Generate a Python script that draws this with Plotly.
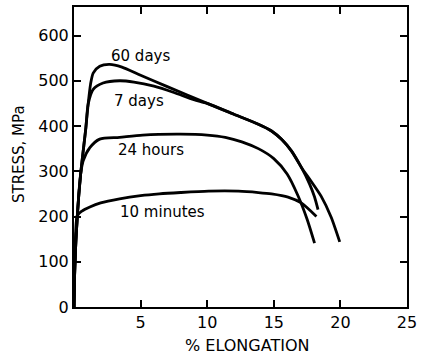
import plotly.graph_objects as go

# % elongation / stress (MPa) for each ageing time
x_60d = [0, 0.07, 0.25, 0.5, 0.89, 1.06, 1.24, 1.44, 1.93, 2.68, 3.6, 5.0, 7.0, 10.0, 12.0, 13.84, 14.83, 15.6, 16.32, 17.06, 17.8, 18.55, 19.3, 19.95]
y_60d = [0, 96, 202, 294, 396, 448, 492, 517, 532, 536, 530, 512, 487, 450, 426, 404, 389, 370, 345, 309, 278, 245, 199, 144]

x_7d = [0, 0.07, 0.25, 0.5, 0.89, 1.06, 1.44, 2.18, 3.42, 4.5, 6.0, 7.5, 9.0, 10.0, 12.0, 13.84, 14.83, 15.6, 16.32, 17.06, 17.68, 18.06, 18.32]
y_7d = [0, 96, 202, 294, 396, 448, 481, 495, 500, 497, 488, 474, 458, 450, 426, 404, 389, 370, 345, 309, 272, 243, 215]

x_24h = [0, 0.07, 0.25, 0.5, 0.69, 1.19, 1.93, 3.42, 5.16, 8.0, 10.0, 11.36, 12.6, 13.84, 15.0, 16.0, 16.8, 17.5, 18.06]
y_24h = [0, 96, 202, 294, 323, 352, 371, 375, 380, 382, 380, 375, 365, 350, 328, 294, 247, 194, 141]

x_10m = [0, 0.07, 0.25, 0.6, 1.19, 2.0, 3.42, 5.0, 6.4, 8.0, 10.1, 12.35, 13.84, 14.83, 16.07, 17.06, 18.2]
y_10m = [0, 96, 202, 212, 221, 230, 239, 246, 250, 253, 256, 256, 253, 250, 243, 230, 200]

series = [("60 days", x_60d, y_60d), ("7 days", x_7d, y_7d),
          ("24 hours", x_24h, y_24h), ("10 minutes", x_10m, y_10m)]

label_text = ["60 days", "7 days", "24 hours", "10 minutes"]
label_x = [2.62, 2.85, 3.15, 3.3]
label_y = [554, 455, 347, 209]

x_ticks = [5, 10, 15, 20, 25]
y_ticks = [0, 100, 200, 300, 400, 500, 600]

FONT = "DejaVu Sans"

fig = go.Figure()
for name, xs, ys in series:
    fig.add_trace(go.Scatter(x=xs, y=ys, mode="lines", name=name,
                             line=dict(color="black", width=2.8, shape="spline", smoothing=0.7),
                             showlegend=False))

for t, lx, ly in zip(label_text, label_x, label_y):
    fig.add_annotation(x=lx, y=ly, text=t, showarrow=False, xanchor="left", yanchor="middle",
                       font=dict(family=FONT, size=15, color="black"))

fig.add_annotation(x=0.52, y=-0.13, xref="paper", yref="paper", text="% ELONGATION",
                   showarrow=False, xanchor="center", yanchor="middle",
                   font=dict(family=FONT, size=16, color="black"))
fig.add_annotation(x=-0.165, y=0.51, xref="paper", yref="paper", text="STRESS, MPa",
                   showarrow=False, textangle=-90, xanchor="center", yanchor="middle",
                   font=dict(family=FONT, size=15, color="black"))

fig.update_layout(
    width=422, height=357,
    margin=dict(l=74, r=12, t=5, b=50),
    plot_bgcolor="white", paper_bgcolor="white",
    font=dict(family=FONT, size=15, color="black"),
)
fig.update_xaxes(range=[0, 25], tickvals=x_ticks, ticks="inside", ticklen=7, tickwidth=1.5,
                 tickcolor="black", showline=True, linecolor="black", linewidth=2,
                 mirror="ticks", showgrid=False, zeroline=False,
                 tickfont=dict(family=FONT, size=16))
fig.update_yaxes(range=[0, 663], tickvals=y_ticks, ticks="inside", ticklen=7, tickwidth=1.5,
                 tickcolor="black", showline=True, linecolor="black", linewidth=2,
                 mirror="ticks", showgrid=False, zeroline=False,
                 tickfont=dict(family=FONT, size=16))

fig.write_html("out.html")
